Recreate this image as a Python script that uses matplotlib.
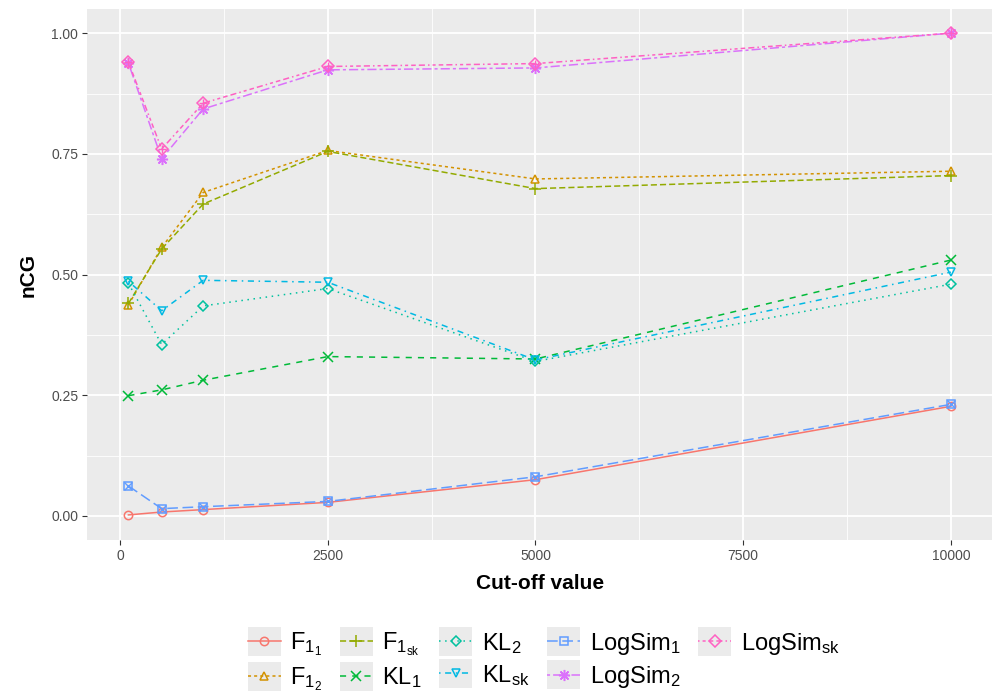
import matplotlib
matplotlib.use("Agg")
import matplotlib.pyplot as plt
from matplotlib.legend_handler import HandlerLine2D
from matplotlib.patches import Rectangle
from matplotlib.ticker import MultipleLocator

plt.rcParams["font.family"] = ["Liberation Sans", "DejaVu Sans"]
plt.rcParams["mathtext.fontset"] = "custom"
plt.rcParams["mathtext.rm"] = "Liberation Sans"

# cut-off values on the x axis
cutoffs = [100, 500, 1000, 2500, 5000, 10000]

f1_1 = [0.002, 0.008, 0.013, 0.028, 0.075, 0.227]
f1_2 = [0.437, 0.556, 0.670, 0.757, 0.698, 0.714]
f1_sk = [0.440, 0.553, 0.646, 0.755, 0.678, 0.705]
kl_1 = [0.249, 0.261, 0.281, 0.330, 0.325, 0.530]
kl_2 = [0.482, 0.355, 0.435, 0.471, 0.320, 0.480]
kl_sk = [0.486, 0.425, 0.488, 0.484, 0.323, 0.505]
logsim_1 = [0.062, 0.015, 0.019, 0.030, 0.081, 0.231]
logsim_2 = [0.938, 0.740, 0.843, 0.924, 0.928, 1.000]
logsim_sk = [0.940, 0.760, 0.855, 0.931, 0.937, 1.000]

labels = [r"F$\mathregular{_{1_1}}$", r"F$\mathregular{_{1_2}}$", r"F$\mathregular{_{1_{sk}}}$",
          r"KL$\mathregular{_1}$", r"KL$\mathregular{_2}$", r"KL$\mathregular{_{sk}}$",
          r"LogSim$\mathregular{_1}$", r"LogSim$\mathregular{_2}$", r"LogSim$\mathregular{_{sk}}$"]
series = [f1_1, f1_2, f1_sk, kl_1, kl_2, kl_sk, logsim_1, logsim_2, logsim_sk]

colors = ["#F8766D", "#D39200", "#93AA00", "#00BA38", "#00C19F",
          "#00B9E3", "#619CFF", "#DB72FB", "#FF61C3"]
dashes = [None, (2, 2), (4, 2), (4, 4), (1, 3), (1, 3, 4, 3), (7, 3), (2, 2, 6, 2),
          (1, 2, 2, 2, 3, 2, 4, 2)]
# ggplot shapes 1..9; overlay completes the composite shapes
markers = ["o", "^", "+", "x", "D", "v", "s", (8, 2, 0), "D"]
overlay = [None, None, None, None, None, None, "x", None, "+"]
msizes = [6, 6, 8, 7, 5, 6, 6, 8, 6]

PANEL = "#EBEBEB"


class KeyHandler(HandlerLine2D):
    def create_artists(self, legend, orig_handle, xdescent, ydescent,
                       width, height, fontsize, trans):
        bg = Rectangle((-xdescent, -ydescent - 4.5), width, height + 9,
                       facecolor=PANEL, edgecolor="none", transform=trans)
        arts = super().create_artists(legend, orig_handle, xdescent, ydescent,
                                      width, height, fontsize, trans)
        return [bg] + list(arts)


fig = plt.figure(figsize=(9.92, 6.95), dpi=100)
ax = fig.add_axes([0.088, 0.223, 0.912, 0.764])
ax.set_facecolor(PANEL)

handles = []
for vals, lab, c, d, m, ov, ms in zip(series, labels, colors, dashes, markers,
                                      overlay, msizes):
    open_marker = m in ("o", "^", "D", "v", "s")
    ln, = ax.plot(cutoffs, vals, color=c, lw=1.1, marker=m, markersize=ms,
                  markerfacecolor="none" if open_marker else c,
                  markeredgecolor=c, markeredgewidth=1.1, label=lab)
    if d is not None:
        ln.set_dashes(d)
    if ov is not None:
        ax.plot(cutoffs, vals, ls="none", marker=ov, markersize=ms * 0.9,
                markeredgecolor=c, markeredgewidth=1.0)
    handles.append(ln)

ax.set_xlim(-395, 10495)
ax.set_ylim(-0.05, 1.05)
ax.xaxis.set_minor_locator(MultipleLocator(1250))
ax.yaxis.set_minor_locator(MultipleLocator(0.125))
ax.set_yticks([0, 0.25, 0.5, 0.75, 1.0])
ax.set_yticklabels(["0.00", "0.25", "0.50", "0.75", "1.00"])
ax.set_xticks([0, 2500, 5000, 7500, 10000])
ax.set_xticklabels(["0", "2500", "5000", "7500", "10000"])
ax.grid(which="major", color="white", lw=1.3)
ax.grid(which="minor", color="white", lw=0.6)
ax.set_axisbelow(True)
for s in ax.spines.values():
    s.set_visible(False)
ax.tick_params(which="major", length=3.5, width=0.8, color="#333333",
               labelcolor="#4D4D4D", labelsize=10, pad=3)
ax.tick_params(which="minor", length=0)

ax.set_xlabel("Cut-off value", fontsize=15, fontweight="bold", labelpad=8)
ax.set_ylabel("nCG", fontsize=15, fontweight="bold", labelpad=10)

fig.legend(handles=handles, loc="lower center", bbox_to_anchor=(0.548, -0.021),
           ncol=5, frameon=False, fontsize=17, handlelength=1.4,
           handletextpad=0.4, columnspacing=0.75, labelspacing=0.3,
           borderpad=0.2,
           handler_map={h: KeyHandler() for h in handles})

fig.savefig("out.png", dpi=100)
